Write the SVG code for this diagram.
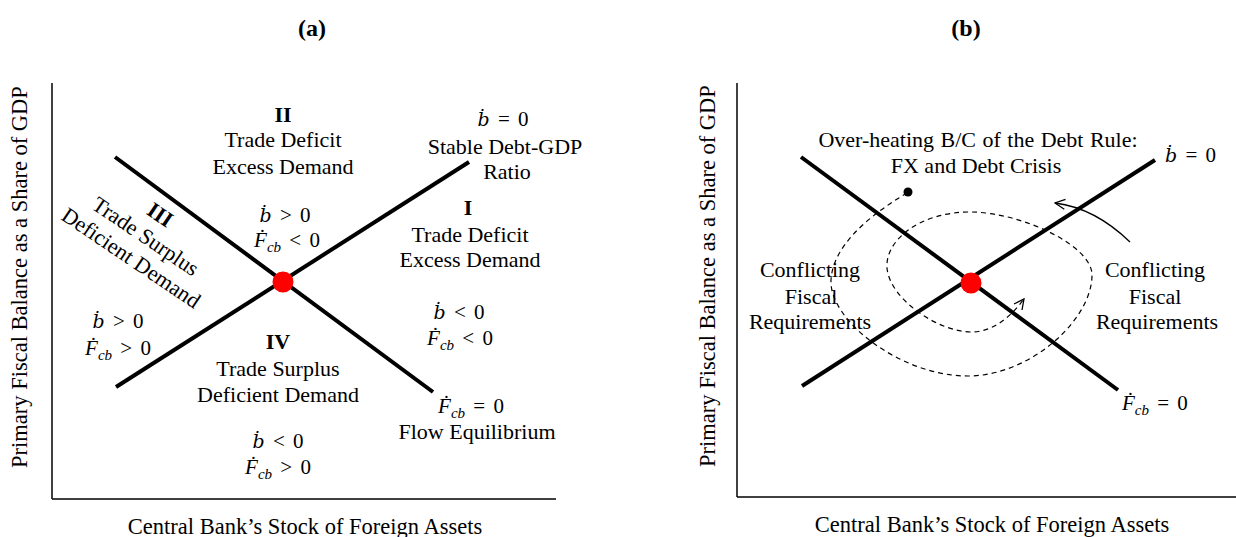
<svg xmlns="http://www.w3.org/2000/svg" width="1236" height="537" viewBox="0 0 1236 537">
<style>
.t{font-family:"Liberation Serif","Times New Roman",serif;font-size:22px;fill:#000}
.ax{font-size:22.5px}
.c{text-anchor:middle}
.s{text-anchor:start}
.b{font-weight:bold}
.h{font-size:24px}
.m{font-size:21px;word-spacing:3px}
.i{font-style:italic}
.bd{font-family:"DejaVu Serif",serif;font-style:italic;font-size:19px}
.sub{font-size:15px;font-style:italic}
.axis{stroke:#000;stroke-width:1.5;fill:none}
.line{stroke:#000;stroke-width:4;fill:none}
.dash{stroke:#000;stroke-width:1.2;fill:none;stroke-dasharray:5 4}
.thin{stroke:#000;stroke-width:1.3;fill:none}
.eq{fill:#ff0000}
</style>
<defs>
<marker id="open" viewBox="0 0 12 12" refX="11" refY="6" markerWidth="12" markerHeight="12" markerUnits="userSpaceOnUse" orient="auto">
<path d="M1,1 L11,6 L1,11" fill="none" stroke="#000" stroke-width="1.3" stroke-dasharray="none"/>
</marker>
</defs>
<rect width="1236" height="537" fill="#fff"/>

<!-- Panel (a) -->
<g id="panel-a">
<text class="t c b h" x="312" y="36">(a)</text>
<g id="a-axes">
<line class="axis" x1="52" y1="83" x2="52" y2="499"/>
<line class="axis" x1="52" y1="499" x2="556" y2="499"/>
<text class="t c ax" transform="translate(27,277) rotate(-90)">Primary Fiscal Balance as a Share of GDP</text>
<text class="t c ax" x="305" y="534">Central Bank’s Stock of Foreign Assets</text>
</g>
<g id="a-connectors">
<line id="a-fcb0" class="line" x1="115" y1="157" x2="433" y2="392"/>
<line id="a-b0" class="line" x1="116" y1="387" x2="469" y2="162"/>
</g>
<g id="a-equilibrium"><circle class="eq" cx="283" cy="282" r="10.5"/></g>
<g id="a-region-II">
<text class="t c b" x="283" y="122">II</text>
<text class="t c" x="283" y="147">Trade Deficit</text>
<text class="t c" x="283" y="174">Excess Demand</text>
<text class="t c m" x="285" y="222"><tspan class="bd">ḃ</tspan> &gt; 0</text>
<text class="t c m" x="287" y="247"><tspan class="i">Ḟ</tspan><tspan class="sub" dy="5">cb</tspan><tspan dy="-5"> &lt; 0</tspan></text>
</g>
<g id="a-label-b0">
<text class="t c m" x="503" y="126"><tspan class="bd">ḃ</tspan> = 0</text>
<text class="t c" x="505" y="154">Stable Debt-GDP</text>
<text class="t c" x="507" y="179">Ratio</text>
</g>
<g id="a-region-I">
<text class="t c b" x="468" y="215">I</text>
<text class="t c" x="470" y="242">Trade Deficit</text>
<text class="t c" x="470" y="267">Excess Demand</text>
<text class="t c m" x="459" y="319"><tspan class="bd">ḃ</tspan> &lt; 0</text>
<text class="t c m" x="460" y="345"><tspan class="i">Ḟ</tspan><tspan class="sub" dy="5">cb</tspan><tspan dy="-5"> &lt; 0</tspan></text>
</g>
<g id="a-region-III">
<g transform="translate(160,215) rotate(34)">
<text class="t c b" x="0" y="7">III</text>
<text class="t c" x="0" y="33">Trade Surplus</text>
<text class="t c" x="0" y="59">Deficient Demand</text>
</g>
<text class="t c m" x="118" y="328"><tspan class="bd">ḃ</tspan> &gt; 0</text>
<text class="t c m" x="118" y="355"><tspan class="i">Ḟ</tspan><tspan class="sub" dy="5">cb</tspan><tspan dy="-5"> &gt; 0</tspan></text>
</g>
<g id="a-region-IV">
<text class="t c b" x="278" y="349">IV</text>
<text class="t c" x="278" y="376">Trade Surplus</text>
<text class="t c" x="278" y="402">Deficient Demand</text>
<text class="t c m" x="278" y="448"><tspan class="bd">ḃ</tspan> &lt; 0</text>
<text class="t c m" x="278" y="474"><tspan class="i">Ḟ</tspan><tspan class="sub" dy="5">cb</tspan><tspan dy="-5"> &gt; 0</tspan></text>
</g>
<g id="a-label-fcb0">
<text class="t c m" x="471" y="413"><tspan class="i">Ḟ</tspan><tspan class="sub" dy="5">cb</tspan><tspan dy="-5"> = 0</tspan></text>
<text class="t c" x="477" y="439">Flow Equilibrium</text>
</g>
</g>

<!-- Panel (b) -->
<g id="panel-b">
<text class="t c b h" x="966" y="36">(b)</text>
<g id="b-axes">
<line class="axis" x1="737" y1="83" x2="737" y2="497"/>
<line class="axis" x1="737" y1="497" x2="1236" y2="497"/>
<text class="t c ax" transform="translate(715,276) rotate(-90)">Primary Fiscal Balance as a Share of GDP</text>
<text class="t c ax" x="992" y="532">Central Bank’s Stock of Foreign Assets</text>
</g>
<g id="b-connectors">
<line id="b-fcb0" class="line" x1="801" y1="157" x2="1118" y2="390"/>
<line id="b-b0" class="line" x1="802" y1="386" x2="1155" y2="160"/>
<path id="b-spiral" class="dash" marker-end="url(#open)" d="M907,193 C870,215 833,245 831,280 C829,320 900,376 968,376 C1030,376 1092,320 1092,275 C1092,245 1020,212 970,212 C920,212 885,240 887,268 C890,300 940,333 973,332 C995,331 1012,315 1024,299"/>
<path id="b-push" class="thin" marker-end="url(#open)" d="M1130,242 Q1095,208 1055,203"/>
</g>
<g id="b-equilibrium"><circle class="eq" cx="971" cy="283" r="10.5"/></g>
<g id="b-crisis-point"><circle cx="908" cy="192" r="4.5" fill="#000"/></g>
<g id="b-label-crisis">
<text class="t c" x="978" y="147" word-spacing="1">Over-heating B/C of the Debt Rule:</text>
<text class="t c" x="976" y="173">FX and Debt Crisis</text>
</g>
<g id="b-label-b0">
<text class="t s m" x="1165" y="162"><tspan class="bd">ḃ</tspan> = 0</text>
</g>
<g id="b-label-fcb0">
<text class="t s m" x="1122" y="410"><tspan class="i">Ḟ</tspan><tspan class="sub" dy="5">cb</tspan><tspan dy="-5"> = 0</tspan></text>
</g>
<g id="b-left-conflict">
<text class="t c" x="810" y="277">Conflicting</text>
<text class="t c" x="811" y="304">Fiscal</text>
<text class="t c" x="810" y="329">Requirements</text>
</g>
<g id="b-right-conflict">
<text class="t c" x="1155" y="277">Conflicting</text>
<text class="t c" x="1155" y="304">Fiscal</text>
<text class="t c" x="1157" y="329">Requirements</text>
</g>
</g>
</svg>
